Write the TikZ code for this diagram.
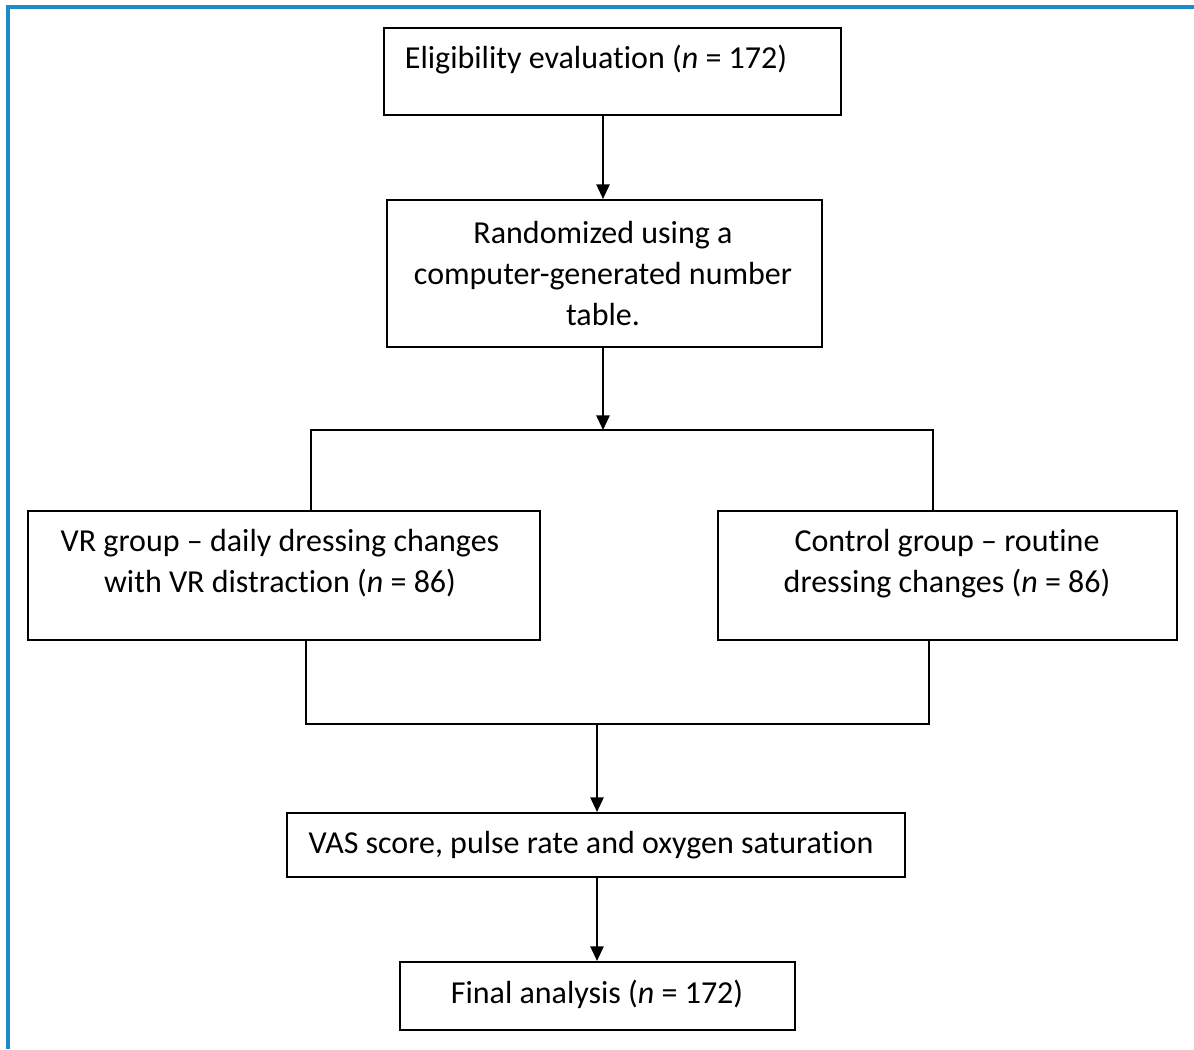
\documentclass[tikz,border=0pt]{standalone}
\usepackage{fontspec}
\setmainfont{Carlito}[Ligatures=NoCommon]
\usetikzlibrary{fit,arrows.meta}
\definecolor{frameblue}{RGB}{30,140,195}
\begin{document}
\begin{tikzpicture}[x=0.75pt,y=-0.75pt,
  box/.style={draw=black,line width=1.6pt,inner sep=0pt},
  txt/.style={font=\fontsize{24}{30.75}\selectfont,align=center,inner sep=0pt},
  conn/.style={line width=1.3pt},
  arr/.style={conn,-{Triangle[length=11pt,width=10pt]}}]
\useasboundingbox (0,0) rectangle (1194,1049);
\draw[frameblue,line width=2.3pt] (8,1049) -- (8,7) -- (1194,7);
% boxes
\node[box,fit={(384,28) (841,115)}] (b1) {};
\node[txt] (t1) at (596,60) {Eligibility evaluation (\textit{n} = 172)};
\node[box,fit={(387,200) (822,347)}] (b2) {};
\node[txt] (t2) at (603,274) {Randomized using a\\computer-generated number\\table.};
\node[box,fit={(28,511) (540,640)}] (b3) {};
\node[txt] (t3) at (280,563.5) {VR group -- daily dressing changes\\with VR distraction (\textit{n} = 86)};
\node[box,fit={(718,511) (1177,640)}] (b4) {};
\node[txt] (t4) at (947,563.5) {Control group -- routine\\dressing changes (\textit{n} = 86)};
\node[box,fit={(287,813) (905,877)}] (b5) {};
\node[txt] (t5) at (591,845) {VAS score, pulse rate and oxygen saturation};
\node[box,fit={(400,962) (795,1030)}] (b6) {};
\node[txt] (t6) at (597,994) {Final analysis (\textit{n} = 172)};
% junctions
\coordinate (s1) at (311,430);
\coordinate (s2) at (933,430);
\coordinate (sm) at (603,430);
\coordinate (j1) at (306,724);
\coordinate (j2) at (929,724);
\coordinate (jm) at (597,724);
% connectors
\draw[arr] (b1.south -| 603,0) -- (b2.north -| 603,0);
\draw[arr] (b2.south -| sm) -- (sm);
\draw[conn] (b3.north -| s1) -- (s1) -- (s2) -- (b4.north -| s2);
\draw[conn] (b3.south -| j1) -- (j1) -- (j2) -- (b4.south -| j2);
\draw[arr] (jm) -- (b5.north -| jm);
\draw[arr] (b5.south -| jm) -- (b6.north -| jm);
\end{tikzpicture}
\end{document}
